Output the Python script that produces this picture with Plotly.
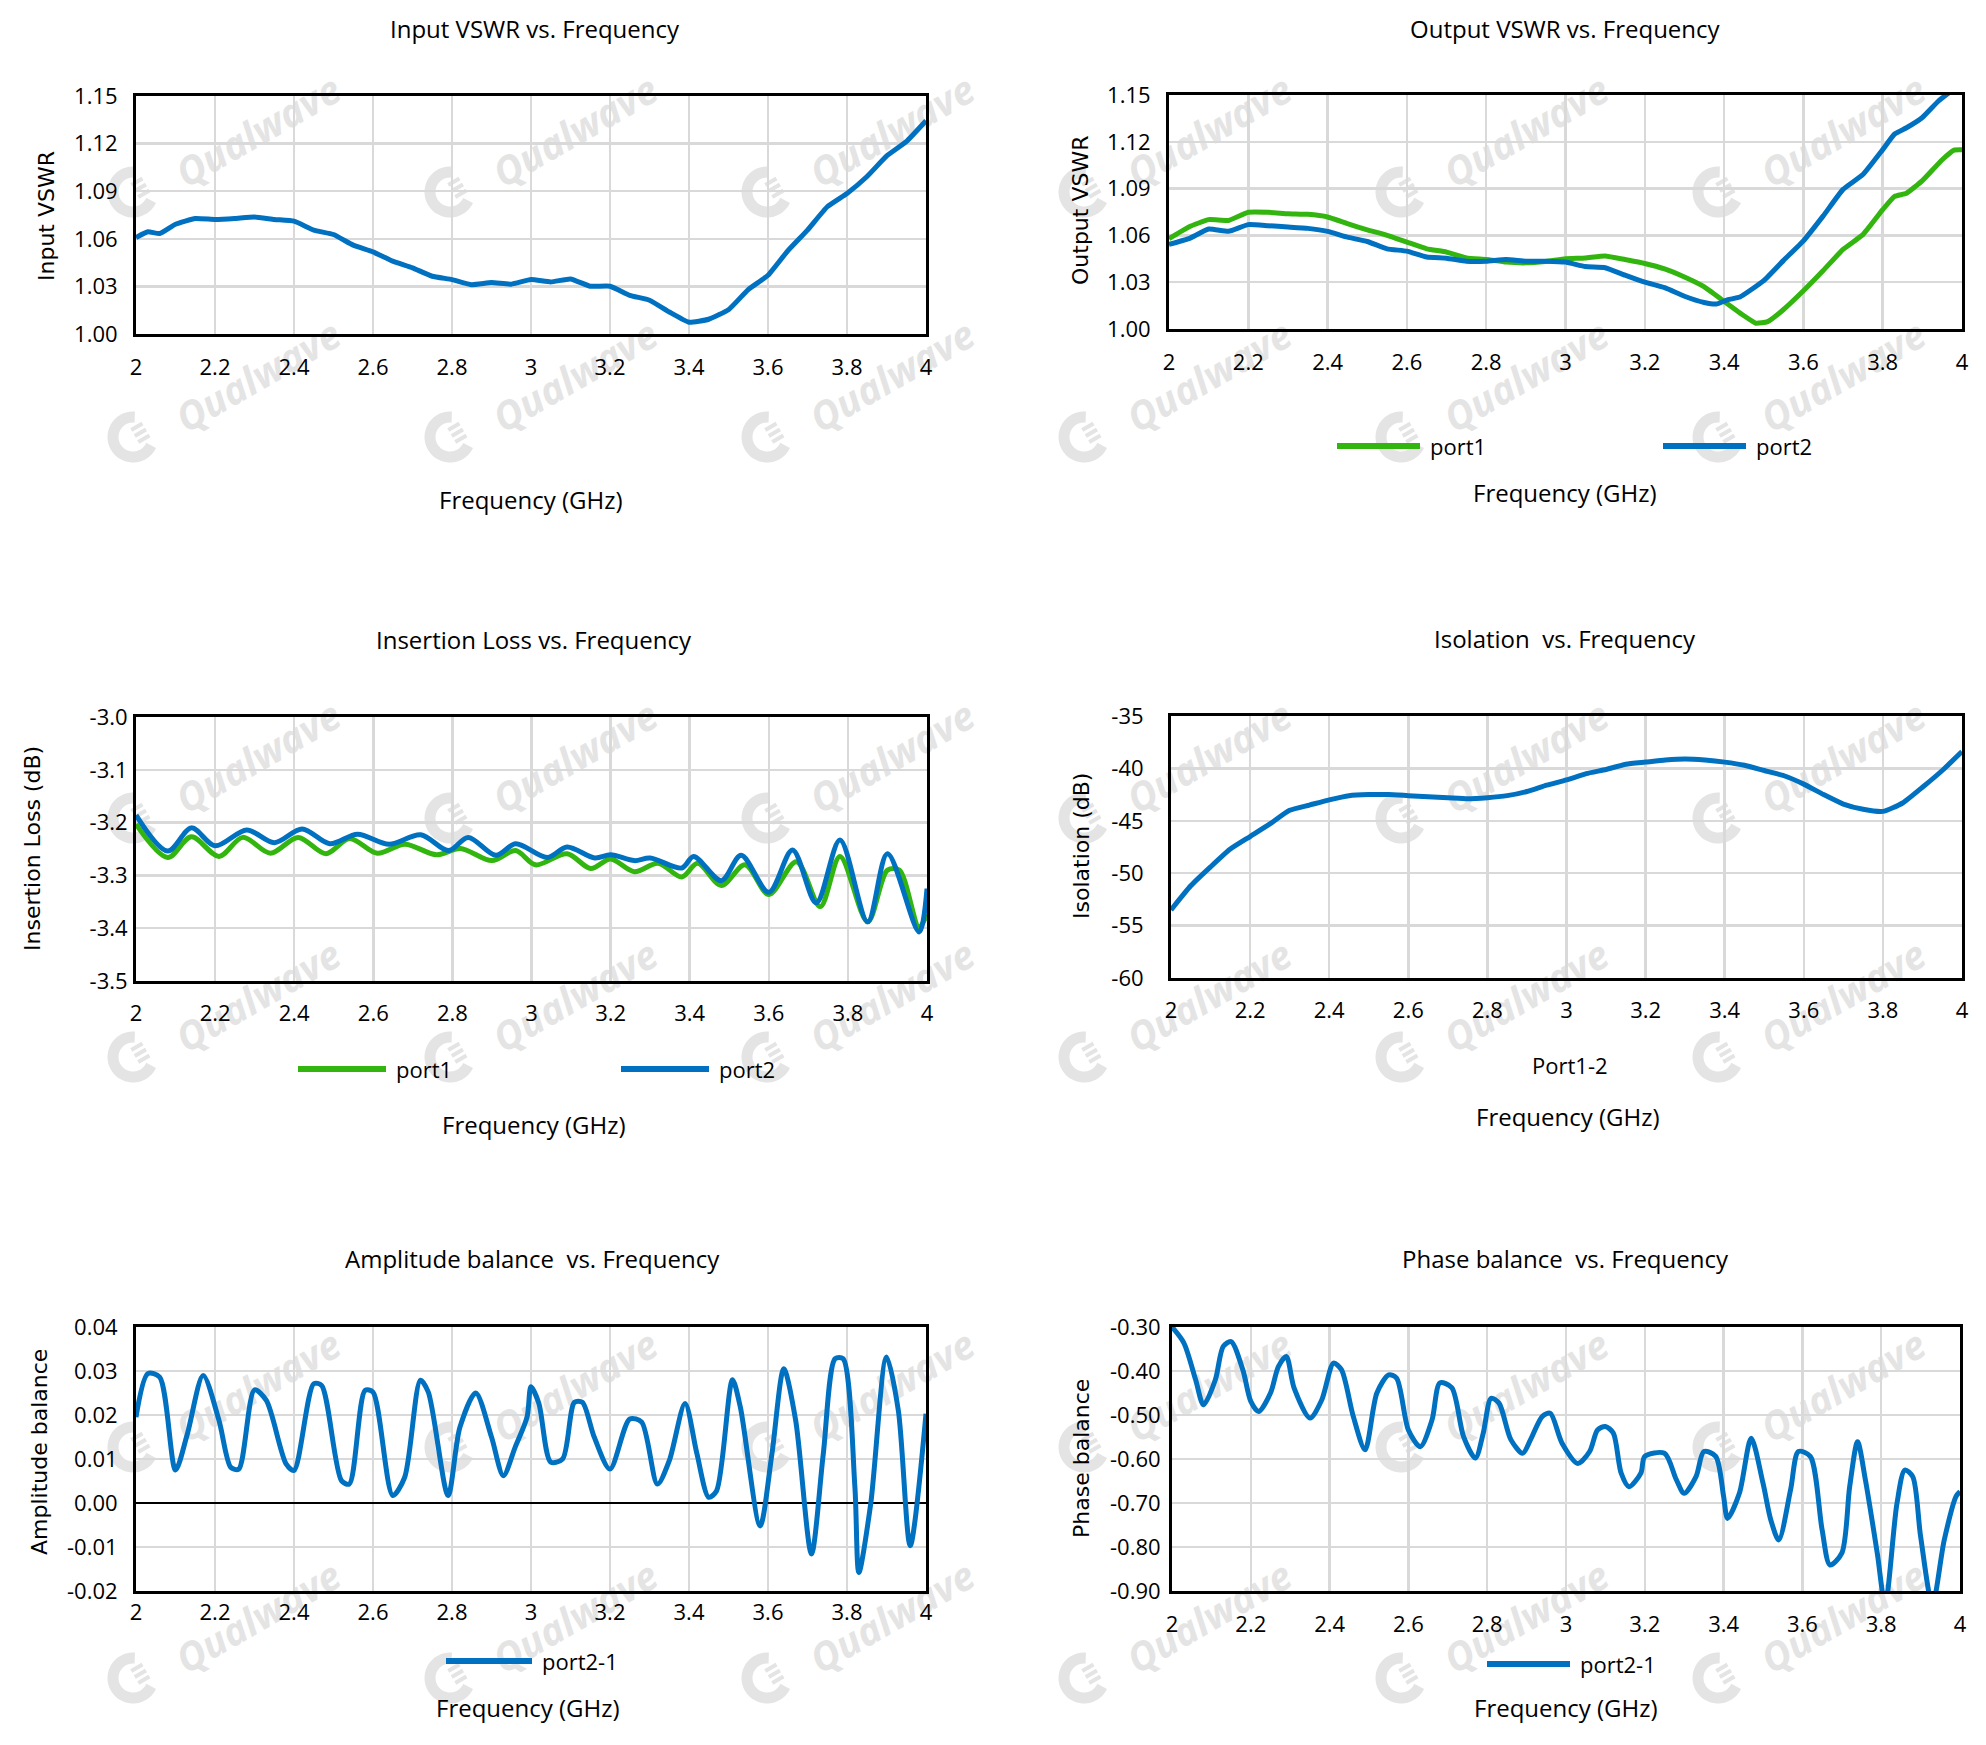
import math
import plotly.graph_objects as go

W, H = 1986, 1745
BLUE = "#0070C0"
GREEN = "#33B50F"

# ---------------- data ----------------
freq_ticks = [2.0, 2.2, 2.4, 2.6, 2.8, 3.0, 3.2, 3.4, 3.6, 3.8, 4.0]
freq_labels = ["2", "2.2", "2.4", "2.6", "2.8", "3", "3.2", "3.4", "3.6", "3.8", "4"]

vswr_ticks = [1.00, 1.03, 1.06, 1.09, 1.12, 1.15]
vswr_labels = ["1.00", "1.03", "1.06", "1.09", "1.12", "1.15"]
il_ticks = [-3.5, -3.4, -3.3, -3.2, -3.1, -3.0]
il_labels = ["-3.5", "-3.4", "-3.3", "-3.2", "-3.1", "-3.0"]
iso_ticks = [-60, -55, -50, -45, -40, -35]
iso_labels = ["-60", "-55", "-50", "-45", "-40", "-35"]
amp_ticks = [-0.02, -0.01, 0.0, 0.01, 0.02, 0.03, 0.04]
amp_labels = ["-0.02", "-0.01", "0.00", "0.01", "0.02", "0.03", "0.04"]
ph_ticks = [-0.9, -0.8, -0.7, -0.6, -0.5, -0.4, -0.3]
ph_labels = ["-0.90", "-0.80", "-0.70", "-0.60", "-0.50", "-0.40", "-0.30"]

# Input VSWR
in_f = [2.0, 2.03, 2.06, 2.1, 2.15, 2.2, 2.25, 2.3, 2.35, 2.4, 2.45, 2.5, 2.55, 2.6, 2.65, 2.7,
        2.75, 2.8, 2.85, 2.9, 2.95, 3.0, 3.05, 3.1, 3.15, 3.2, 3.25, 3.3, 3.35, 3.4, 3.45, 3.5,
        3.55, 3.6, 3.65, 3.7, 3.75, 3.8, 3.85, 3.9, 3.95, 4.0]
in_vswr = [1.0608, 1.0644, 1.0633, 1.0692, 1.0728, 1.0722, 1.0728, 1.0738, 1.0722, 1.0711, 1.0655,
           1.0627, 1.0560, 1.0518, 1.0459, 1.0417, 1.0364, 1.0343, 1.0311, 1.0324, 1.0314, 1.0343,
           1.0328, 1.0347, 1.0301, 1.0301, 1.0244, 1.0213, 1.0139, 1.0074, 1.0093, 1.0153, 1.0280,
           1.0370, 1.0524, 1.0655, 1.0802, 1.0886, 1.0991, 1.1121, 1.1212, 1.1344]

# Output VSWR
out1_f = [2.0, 2.05, 2.1, 2.15, 2.2, 2.25, 2.3, 2.35, 2.4, 2.45, 2.5, 2.55, 2.6, 2.65, 2.7, 2.75,
          2.8, 2.85, 2.9, 2.95, 3.0, 3.05, 3.1, 3.15, 3.2, 3.25, 3.3, 3.35, 3.4, 3.45, 3.48, 3.51,
          3.55, 3.6, 3.65, 3.7, 3.75, 3.8, 3.83, 3.86, 3.9, 3.95, 3.98, 4.0]
out1_vswr = [1.0579, 1.0654, 1.0701, 1.0696, 1.0748, 1.0748, 1.0739, 1.0735, 1.0718, 1.0675, 1.0636,
             1.0600, 1.0557, 1.0514, 1.0493, 1.0456, 1.0446, 1.0429, 1.0424, 1.0433, 1.0450, 1.0455,
             1.0468, 1.0445, 1.0420, 1.0385, 1.0333, 1.0270, 1.0177, 1.0085, 1.0037, 1.0047, 1.0125,
             1.0245, 1.0375, 1.0510, 1.0605, 1.0765, 1.0850, 1.0870, 1.0951, 1.1085, 1.1147, 1.1149]
out2_f = [2.0, 2.05, 2.1, 2.15, 2.2, 2.25, 2.3, 2.35, 2.4, 2.45, 2.5, 2.55, 2.6, 2.65, 2.7, 2.75,
          2.8, 2.85, 2.9, 2.95, 3.0, 3.05, 3.1, 3.15, 3.2, 3.25, 3.3, 3.35, 3.38, 3.41, 3.44, 3.5,
          3.55, 3.6, 3.65, 3.7, 3.75, 3.8, 3.83, 3.86, 3.9, 3.94, 3.97, 4.0]
out2_vswr = [1.0542, 1.0579, 1.0641, 1.0626, 1.0669, 1.0662, 1.0654, 1.0645, 1.0626, 1.0589, 1.0561,
             1.0514, 1.0499, 1.0461, 1.0454, 1.0435, 1.0435, 1.0446, 1.0435, 1.0435, 1.0429, 1.0400,
             1.0393, 1.0345, 1.0300, 1.0265, 1.0210, 1.0170, 1.0160, 1.0188, 1.0205, 1.0310, 1.0440,
             1.0565, 1.0725, 1.0895, 1.0990, 1.1150, 1.1250, 1.1290, 1.1356, 1.1460, 1.1520, 1.1580]

# Insertion loss
il1_f = [2.0, 2.08, 2.14, 2.21, 2.27, 2.34, 2.41, 2.48, 2.54, 2.61, 2.68, 2.76, 2.82, 2.9, 2.96,
         3.01, 3.09, 3.15, 3.2, 3.26, 3.32, 3.38, 3.42, 3.48, 3.54, 3.6, 3.67, 3.73, 3.78, 3.85,
         3.9, 3.93, 3.98, 4.0]
il1_db = [-3.203, -3.266, -3.227, -3.264, -3.228, -3.258, -3.228, -3.259, -3.230, -3.258, -3.241,
          -3.261, -3.249, -3.272, -3.253, -3.280, -3.259, -3.287, -3.269, -3.293, -3.277, -3.303,
          -3.277, -3.319, -3.280, -3.336, -3.274, -3.359, -3.264, -3.388, -3.290, -3.290, -3.398,
          -3.373]
il2_f = [2.0, 2.08, 2.14, 2.2, 2.28, 2.35, 2.42, 2.49, 2.56, 2.64, 2.72, 2.79, 2.84, 2.91, 2.96,
         3.04, 3.09, 3.16, 3.2, 3.26, 3.3, 3.38, 3.41, 3.48, 3.53, 3.6, 3.66, 3.72, 3.78, 3.85,
         3.9, 3.98, 4.0]
il2_db = [-3.186, -3.254, -3.210, -3.244, -3.214, -3.238, -3.212, -3.240, -3.222, -3.241, -3.223,
          -3.253, -3.228, -3.262, -3.240, -3.266, -3.246, -3.267, -3.261, -3.272, -3.267, -3.286,
          -3.264, -3.310, -3.262, -3.332, -3.252, -3.352, -3.233, -3.388, -3.259, -3.407, -3.325]

# Isolation
iso_f = [2.0, 2.05, 2.1, 2.15, 2.2, 2.25, 2.3, 2.35, 2.4, 2.45, 2.5, 2.55, 2.6, 2.65, 2.7, 2.75,
         2.8, 2.85, 2.9, 2.95, 3.0, 3.05, 3.1, 3.15, 3.2, 3.25, 3.3, 3.35, 3.4, 3.45, 3.5, 3.55,
         3.6, 3.65, 3.7, 3.75, 3.8, 3.85, 3.9, 3.95, 4.0]
iso_db = [-53.5, -51.2, -49.4, -47.7, -46.5, -45.3, -44.0, -43.5, -43.0, -42.6, -42.5, -42.5,
          -42.6, -42.7, -42.8, -42.9, -42.8, -42.6, -42.2, -41.6, -41.1, -40.5, -40.1, -39.6,
          -39.4, -39.2, -39.1, -39.2, -39.4, -39.7, -40.2, -40.7, -41.5, -42.5, -43.4, -43.9,
          -44.1, -43.3, -41.8, -40.2, -38.4]

# Amplitude balance
amp_f = [2.0, 2.03, 2.06, 2.1, 2.13, 2.17, 2.21, 2.24, 2.26, 2.3, 2.33, 2.38, 2.4, 2.45, 2.47,
         2.52, 2.54, 2.58, 2.6, 2.65, 2.68, 2.72, 2.74, 2.79, 2.82, 2.86, 2.9, 2.93, 2.96, 2.99,
         3.0, 3.02, 3.05, 3.08, 3.11, 3.13, 3.16, 3.2, 3.25, 3.28, 3.32, 3.35, 3.39, 3.42, 3.45,
         3.47, 3.51, 3.53, 3.58, 3.61, 3.64, 3.67, 3.71, 3.74, 3.77, 3.79, 3.82, 3.83, 3.86, 3.9,
         3.93, 3.96, 4.0]
amp_bal = [0.0195, 0.0294, 0.0286, 0.0075, 0.0157, 0.0290, 0.0188, 0.0081, 0.0077, 0.0257, 0.0233,
           0.0089, 0.0074, 0.0271, 0.0267, 0.0051, 0.0043, 0.0256, 0.0252, 0.0017, 0.0058, 0.0279,
           0.0252, 0.0017, 0.0172, 0.0250, 0.0150, 0.0062, 0.0127, 0.0195, 0.0264, 0.0226, 0.0093,
           0.0100, 0.0229, 0.0229, 0.0150, 0.0077, 0.0191, 0.0184, 0.0043, 0.0096, 0.0226, 0.0112,
           0.0013, 0.0028, 0.0280, 0.0218, -0.0052, 0.0112, 0.0305, 0.0188, -0.0116, 0.0112, 0.0328,
           0.0328, 0.0036, -0.0158, -0.0002, 0.0332, 0.0210, -0.0097, 0.0203]

# Phase balance
ph_f = [2.0, 2.03, 2.06, 2.08, 2.11, 2.13, 2.15, 2.18, 2.2, 2.22, 2.25, 2.27, 2.29, 2.31, 2.35,
        2.38, 2.41, 2.43, 2.46, 2.49, 2.52, 2.55, 2.57, 2.6, 2.63, 2.66, 2.68, 2.71, 2.74, 2.77,
        2.79, 2.81, 2.83, 2.86, 2.89, 2.91, 2.94, 2.96, 2.99, 3.03, 3.06, 3.08, 3.1, 3.12, 3.14,
        3.16, 3.19, 3.2, 3.25, 3.28, 3.3, 3.33, 3.35, 3.38, 3.4, 3.41, 3.44, 3.47, 3.5, 3.52,
        3.54, 3.57, 3.59, 3.62, 3.65, 3.67, 3.7, 3.72, 3.74, 3.76, 3.79, 3.81, 3.84, 3.86, 3.88,
        3.9, 3.93, 3.96, 3.99, 4.0]
ph_bal = [-0.300, -0.336, -0.420, -0.477, -0.420, -0.344, -0.333, -0.398, -0.469, -0.492, -0.450,
          -0.390, -0.367, -0.439, -0.507, -0.466, -0.382, -0.397, -0.503, -0.579, -0.450, -0.409,
          -0.416, -0.534, -0.572, -0.511, -0.427, -0.438, -0.549, -0.598, -0.541, -0.462, -0.473,
          -0.556, -0.587, -0.556, -0.503, -0.496, -0.564, -0.610, -0.583, -0.534, -0.526, -0.541,
          -0.632, -0.663, -0.632, -0.594, -0.587, -0.647, -0.678, -0.640, -0.583, -0.594, -0.685,
          -0.735, -0.678, -0.553, -0.655, -0.739, -0.784, -0.670, -0.583, -0.594, -0.761, -0.841,
          -0.814, -0.663, -0.561, -0.648, -0.814, -0.930, -0.701, -0.625, -0.640, -0.776, -0.930,
          -0.784, -0.685, -0.674]

# ---------------- layout helpers ----------------
def px(x, y):
    return x / W, 1 - y / H

# plot areas in pixels: (left, right, top, bottom)
areas = {
    1: (136, 926, 96, 334),
    2: (1169, 1962, 95, 329),
    3: (136, 927, 717, 981),
    4: (1171, 1962, 716, 978),
    5: (136, 926, 1327, 1591),
    6: (1172, 1960, 1327, 1591),
}

FONT = "Open Sans"
TICKFONT = dict(family=FONT, size=22, color="black")
GRID = "#d9d9d9"

fig = go.Figure()

def add_line(n, x, y, color, name, smooth=0.6):
    xa = "x" if n == 1 else f"x{n}"
    ya = "y" if n == 1 else f"y{n}"
    fig.add_trace(go.Scatter(x=x, y=y, mode="lines", name=name, xaxis=xa, yaxis=ya,
                             line=dict(color=color, width=5, shape="spline", smoothing=smooth),
                             showlegend=False, hoverinfo="skip"))

add_line(1, in_f, in_vswr, BLUE, "Input VSWR", 0.4)
add_line(2, out1_f, out1_vswr, GREEN, "port1", 0.4)
add_line(2, out2_f, out2_vswr, BLUE, "port2", 0.4)
add_line(3, il1_f, il1_db, GREEN, "port1", 0.9)
add_line(3, il2_f, il2_db, BLUE, "port2", 0.9)
add_line(4, iso_f, iso_db, BLUE, "Port1-2", 0.5)
add_line(5, amp_f, amp_bal, BLUE, "port2-1", 0.8)
add_line(6, ph_f, ph_bal, BLUE, "port2-1", 0.8)

yspec = {
    1: dict(range=[1.00, 1.15], vals=vswr_ticks, text=vswr_labels, standoff=11),
    2: dict(range=[1.00, 1.15], vals=vswr_ticks, text=vswr_labels, standoff=11),
    3: dict(range=[-3.5, -3.0], vals=il_ticks, text=il_labels, standoff=1),
    4: dict(range=[-60, -35], vals=iso_ticks, text=iso_labels, standoff=20),
    5: dict(range=[-0.02, 0.04], vals=amp_ticks, text=amp_labels, standoff=11),
    6: dict(range=[-0.9, -0.3], vals=ph_ticks, text=ph_labels, standoff=4),
}
xstand = {1: 12, 2: 12, 3: 11, 4: 11, 5: 0, 6: 12}

layout = dict(width=W, height=H, margin=dict(l=0, r=0, t=0, b=0, pad=0, autoexpand=False),
              paper_bgcolor="white", plot_bgcolor="rgba(0,0,0,0)", showlegend=False)

for n, (l, r, t, b) in areas.items():
    xk = "xaxis" if n == 1 else f"xaxis{n}"
    yk = "yaxis" if n == 1 else f"yaxis{n}"
    ya = "y" if n == 1 else f"y{n}"
    xa = "x" if n == 1 else f"x{n}"
    s = yspec[n]
    layout[xk] = dict(domain=[l / W, r / W], anchor=ya, range=[2, 4], automargin=False,
                      tickmode="array", tickvals=freq_ticks, ticktext=freq_labels,
                      showgrid=True, gridcolor=GRID, gridwidth=2.5,
                      showline=True, mirror=True, linecolor="black", linewidth=3,
                      zeroline=False, ticks="", tickfont=TICKFONT,
                      ticklabelstandoff=xstand[n], fixedrange=True)
    layout[yk] = dict(domain=[1 - b / H, 1 - t / H], anchor=xa, range=s["range"], automargin=False,
                      tickmode="array", tickvals=s["vals"], ticktext=s["text"],
                      showgrid=True, gridcolor=GRID, gridwidth=2.5,
                      showline=True, mirror=True, linecolor="black", linewidth=3,
                      zeroline=(n == 5), zerolinecolor="black", zerolinewidth=2.5,
                      ticks="", tickfont=TICKFONT, ticklabelstandoff=s["standoff"],
                      fixedrange=True)

annotations = []

def text(x, y, s, size=24, family=FONT, angle=0, xanchor="center"):
    xp, yp = px(x, y)
    annotations.append(dict(x=xp, y=yp, xref="paper", yref="paper", text=s, showarrow=False,
                            textangle=angle, xanchor=xanchor, yanchor="middle",
                            font=dict(family=family, size=size, color="black")))

# chart titles
text(535, 29, "Input VSWR vs. Frequency")
text(1565, 29, "Output VSWR vs. Frequency")
text(534, 639, "Insertion Loss vs. Frequency")
text(1565, 638, "Isolation  vs. Frequency")
text(532, 1258, "Amplitude balance  vs. Frequency")
text(1565, 1258, "Phase balance  vs. Frequency")

# x-axis titles
text(531, 500, "Frequency (GHz)")
text(1565, 493, "Frequency (GHz)")
text(534, 1124, "Frequency (GHz)")
text(1568, 1116, "Frequency (GHz)")
text(528, 1707, "Frequency (GHz)")
text(1566, 1707, "Frequency (GHz)")
text(1570, 1065, "Port1-2", size=22)

# y-axis titles
YF = "DejaVu Sans"
text(47, 216, "Input VSWR", size=22, family=YF, angle=-90)
text(1081, 211, "Output VSWR", size=22, family=YF, angle=-90)
text(32, 849, "Insertion Loss (dB)", size=22, family=YF, angle=-90)
text(1081, 846, "Isolation (dB)", size=22, family=YF, angle=-90)
text(39, 1452, "Amplitude balance", size=22, family=YF, angle=-90)
text(1081, 1459, "Phase balance", size=22, family=YF, angle=-90)

shapes = []

# legends (line sample + label)
def legend_item(x0, x1, y, color, label):
    a, yy = px(x0, y)
    b, _ = px(x1, y)
    shapes.append(dict(type="line", xref="paper", yref="paper", x0=a, x1=b, y0=yy, y1=yy,
                       line=dict(color=color, width=6)))
    text(x1 + 8, y, label, size=22, xanchor="left")

legend_item(1337, 1420, 446, GREEN, "port1")
legend_item(1663, 1746, 446, BLUE, "port2")
legend_item(298, 386, 1069, GREEN, "port1")
legend_item(621, 709, 1069, BLUE, "port2")
legend_item(446, 532, 1661, BLUE, "port2-1")
legend_item(1487, 1570, 1664, BLUE, "port2-1")

# watermarks (drawn below the data)
wm_cols = [133, 450, 767, 1084, 1401, 1718]
wm_rows = [192, 437, 818, 1057, 1447, 1678]
WM = "#e4e4e4"
ANG = math.radians(30)

def path_from(points):
    segs = []
    for i, (x, y) in enumerate(points):
        a, b = px(x, y)
        segs.append(("M" if i == 0 else "L") + f"{a:.5f},{b:.5f}")
    return " ".join(segs)

for cx in wm_cols:
    for cy in wm_rows:
        a0, b0 = px(cx + 40, cy - 10)
        a1, b1 = px(cx + 212, cy - 109)
        shapes.append(dict(type="line", xref="paper", yref="paper", x0=a0, y0=b0, x1=a1, y1=b1,
                           layer="below", line=dict(color="rgba(0,0,0,0)", width=0),
                           label=dict(text="Qualwave", textposition="middle", yanchor="middle",
                                      font=dict(family=FONT, size=39, color=WM,
                                                weight="bold", style="italic"))))
        # logo: open ring with three bars
        rr = 20
        pts = []
        for k in range(0, 41):
            t = ANG + math.radians(55 + k * (250 / 40))
            pts.append((cx + rr * math.cos(t), cy - rr * math.sin(t)))
        shapes.append(dict(type="path", xref="paper", yref="paper", path=path_from(pts),
                           layer="below", line=dict(color=WM, width=11)))
        ux, uy = math.cos(ANG), -math.sin(ANG)
        vx, vy = math.sin(ANG), math.cos(ANG)
        bars = []
        for off in (-7, 0, 7):
            sx = cx + 2 * ux + off * vx
            sy = cy + 2 * uy + off * vy
            bars.append(path_from([(sx, sy), (sx + 13 * ux, sy + 13 * uy)]))
        shapes.append(dict(type="path", xref="paper", yref="paper", path=" ".join(bars),
                           layer="below", line=dict(color=WM, width=4)))

layout["annotations"] = annotations
layout["shapes"] = shapes
fig.update_layout(**layout)

fig.write_html("out.html", config={"displayModeBar": False, "staticPlot": True},
               post_script="document.body.style.margin='0px';document.body.style.overflow='hidden';")
